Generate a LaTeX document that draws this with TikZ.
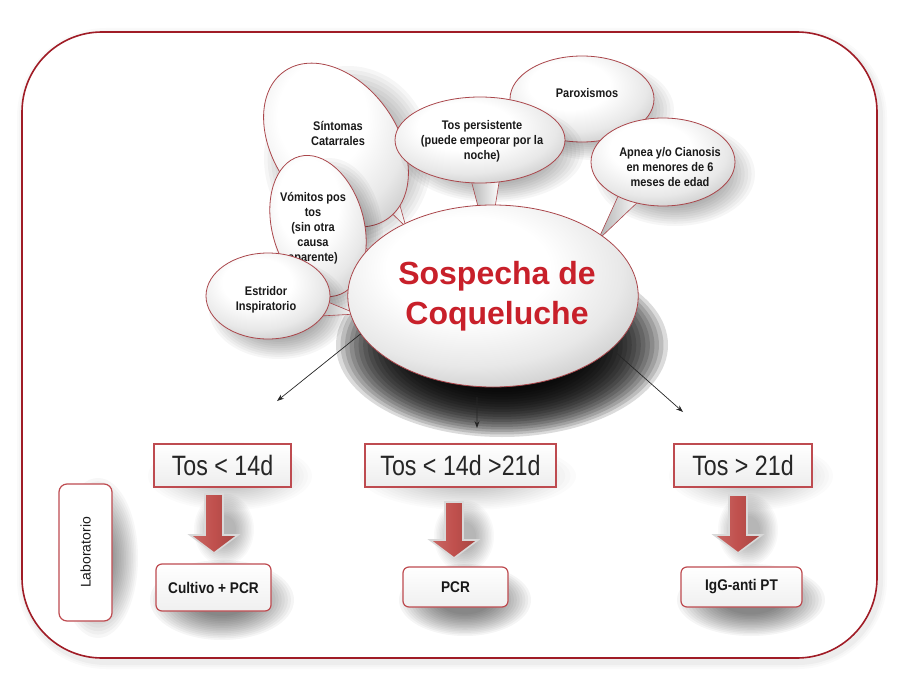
\documentclass[tikz,border=0pt]{standalone}
\usepackage{fontspec}
\setmainfont{Liberation Sans}
\newfontfamily\condfont[FakeStretch=0.88]{Liberation Sans}
\newfontfamily\tosfont[FakeStretch=0.83]{Liberation Sans}
\usetikzlibrary{shapes.geometric,arrows.meta,calc}
\definecolor{framered}{RGB}{160,28,38}
\definecolor{edgered}{RGB}{170,70,75}
\definecolor{boxred}{RGB}{190,75,80}
\definecolor{titlered}{RGB}{200,32,42}
\definecolor{arrowred}{RGB}{192,80,77}
\pgfdeclareradialshading{bubble}{\pgfpoint{-5bp}{9bp}}{color(0bp)=(white); color(14bp)=(white); color(26bp)=(black!9); color(38bp)=(black!26); color(46bp)=(black!44); color(56bp)=(black!55); color(100bp)=(black!55)}
% soft shadow: stacked translucent ellipses
\newcommand\softell[6]{%
  \foreach \k in {0,...,#6}{%
    \pgfmathsetmacro\fr{1-0.6*\k/#6}%
    \fill[black,opacity=#5] (#1,#2) ellipse [x radius={#3*\fr}, y radius={#4*\fr}];}}
\newcommand\blockarr[4]{%
  \pgfmathsetmacro\bax{#1+10}%
  \pgfmathsetmacro\bay{(#2+#4)/2+6}%
  \softell{\bax}{\bay}{30}{36}{0.025}{12}
  \draw[black!15, line width=1.6pt, line join=miter, left color=arrowred!85!white, right color=arrowred!85!black, middle color=arrowred]
    (#1-9,#2) -- (#1+9,#2) -- (#1+9,#3) -- (#1+24,#3) -- (#1,#4) -- (#1-24,#3) -- (#1-9,#3) -- cycle;}
\tikzset{
  bubble/.style={ellipse, draw=edgered, line width=0.8pt, shade, shading=bubble, inner sep=0pt},
  btext/.style={align=center, inner sep=0pt, text=black!90, font=\condfont\bfseries\fontsize{12.5}{15}\selectfont},
  tail/.style={draw=edgered, line width=0.6pt, left color=black!30, right color=white},
  tosbox/.style={rectangle, draw=boxred, line width=1.2pt, top color=white, bottom color=black!7, minimum height=43, inner sep=0pt, text=black!85, font=\tosfont\fontsize{28}{30}\selectfont},
  resbox/.style={rectangle, rounded corners=6pt, draw=boxred, line width=1.2pt, top color=white, bottom color=black!6, minimum height=40, inner sep=0pt, text=black!90, font=\condfont\bfseries\fontsize{15.5}{17}\selectfont},
  labbox/.style={rectangle, rounded corners=8pt, draw=boxred, line width=1.2pt, fill=white, inner sep=0pt, text=black!90, font=\fontsize{14}{16}\selectfont},
  link/.style={-{Stealth[length=7pt,width=5pt]}, line width=0.7pt, black!85}
}
\begin{document}
\begin{tikzpicture}[x=1pt,y=-1pt]
\useasboundingbox (0,0) rectangle (921,677);
\fill[white] (0,0) rectangle (921,677);
% outer frame with soft glow
\foreach \w/\o in {14/0.02,10/0.02,6/0.03}{
  \draw[black, opacity=\o, line width=\w pt, rounded corners=82pt] (24,35) rectangle (880,662);}
\draw[framered, line width=1.6pt, rounded corners=80pt, fill=white] (22,32) rectangle (877,658);

% box shadows
\softell{230}{476}{82}{34}{0.016}{12}
\softell{468}{476}{108}{34}{0.016}{12}
\softell{751}{476}{82}{34}{0.016}{12}
\softell{222}{600}{72}{40}{0.04}{14}
\softell{465}{600}{66}{36}{0.04}{14}
\softell{751}{600}{74}{36}{0.04}{14}
\softell{98}{558}{40}{80}{0.03}{14}

% main shadow
\softell{502}{345}{166}{92}{0.14}{22}

% bubbles, back to front
\softell{594}{110}{80}{50}{0.035}{14}
\node[bubble, minimum width=144, minimum height=86] (parox) at (582,99) {};
\node[btext] (paroxT) at (587,93) {Paroxismos};

\softell{348}{158}{84}{92}{0.035}{14}
\draw[tail] (378,200) -- (395,188) -- (406,227) -- cycle;
\node[bubble, rotate=-55, minimum width=180, minimum height=124] (sint) at (336,145) {};
\node[btext] (sintT) at (338,133) {Síntomas\\Catarrales};

\softell{492}{152}{92}{50}{0.035}{14}
\draw[tail] (470,176) -- (500,176) -- (494,214) -- (480,214) -- cycle;
\node[bubble, minimum width=170, minimum height=86] (tosp) at (480,140) {};
\node[btext] (tospT) at (482,141) {Tos persistente\\(puede empeorar por la\\noche)};

\softell{675}{174}{80}{52}{0.035}{14}
\draw[tail] (620,192) -- (642,198) -- (598,240) -- cycle;
\node[bubble, minimum width=144, minimum height=88] (apnea) at (663,162) {};
\node[btext] (apneaT) at (670,167) {Apnea y/o Cianosis\\en menores de 6\\meses de edad};

\softell{329}{238}{54}{80}{0.035}{14}
\draw[tail] (340,232) -- (342,258) -- (372,252) -- cycle;
\node[bubble, rotate=15, minimum width=92, minimum height=144] (vom) at (318,226) {};
\node[btext] (vomT) at (313,228) {Vómitos pos\\tos\\(sin otra\\causa\\aparente)};

\softell{279}{309}{70}{50}{0.035}{14}
\draw[tail] (318,298) -- (320,316) -- (357,314) -- cycle;
\node[bubble, minimum width=124, minimum height=86] (estr) at (268,296) {};
\node[btext] (estrT) at (266,300) {Estridor\\Inspiratorio};

% main ellipse
\node[bubble, minimum width=286, minimum height=182, align=center, text=titlered,
      font=\bfseries\fontsize{32}{40}\selectfont] (main) at (493,296) {\hspace*{8pt}Sospecha de\\\hspace*{8pt}Coqueluche};

% connectors
\coordinate (lend) at (277,401);
\coordinate (mend) at (477,428);
\coordinate (rend) at (683,412);
\draw[link] (main.196) -- (lend);
\draw[link] ([yshift=-10pt]main.260) -- (mend);
\draw[link] (main.336) -- (rend);

% condition boxes
\node[tosbox, minimum width=137] (t1) at (222.5,465.5) {Tos < 14d};
\node[tosbox, minimum width=191] (t2) at (460.5,465.5) {Tos < 14d >21d};
\node[tosbox, minimum width=138] (t3) at (743,465.5) {Tos > 21d};

% block arrows
\blockarr{214}{494}{535}{553}
\blockarr{454}{502}{540}{558}
\blockarr{738}{495}{535}{553}

% result boxes
\node[resbox, minimum width=115, minimum height=47] (r1) at (213.5,587.5) {Cultivo + PCR};
\node[resbox, minimum width=105] (r2) at (455.5,587) {PCR};
\node[resbox, minimum width=121] (r3) at (741.5,587) {IgG-anti PT};

% laboratorio
\node[labbox, rotate=90, minimum width=137, minimum height=53] (lab) at (85.5,552.5) {Laboratorio};
\end{tikzpicture}
\end{document}
